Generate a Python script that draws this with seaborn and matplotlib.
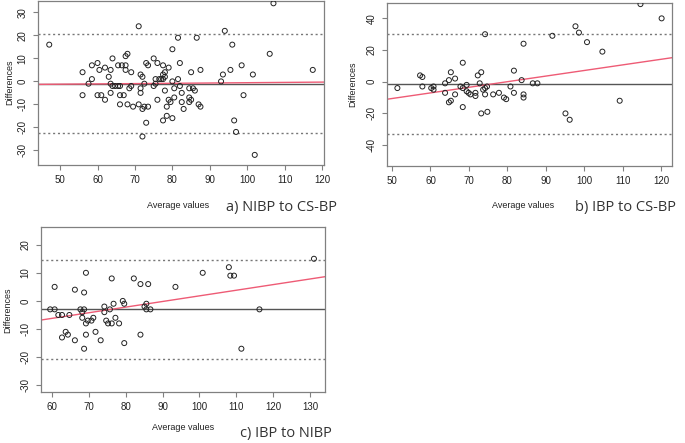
import numpy as np
import pandas as pd
import seaborn as sns
import matplotlib.pyplot as plt

# a) NIBP to CS-BP
avg_a = [47.1, 56, 56, 57.6, 58.5, 58.5, 60, 60, 60.5, 61, 62, 62, 63, 63.5, 63.5, 63.5,
         64, 64, 64.7, 65.5, 65.5, 66, 66, 66, 66.5, 67, 67.5, 67.5, 67.5, 68, 68, 68.5,
         69, 69, 69.5, 71, 71, 71.5, 71.5, 71.5, 72, 72, 72, 72.5, 72.5, 73, 73, 73.5,
         73.5, 75, 75, 75.5, 75.5, 76, 76, 76.5, 77, 77.5, 77.5, 77.5, 77.5, 78, 78, 78,
         78.5, 78.5, 79, 79, 79.5, 80, 80, 80, 80.5, 80.5, 81.5, 81.5, 82, 82, 82.5, 82.5,
         83, 84.5, 84.5, 84.5, 85, 85, 85.5, 86, 86.5, 87, 87.5, 87.5, 93, 93.5, 94, 95.5,
         96, 96.5, 97, 98.5, 99, 101.5, 102, 106, 107, 117.5]
diff_a = [16, 4, -6, -1, 7, 1, 8, -6, 5, -6, 6, -8, 2, 5, -1, -5,
          10, -2, -2, 7, -2, -2, -6, -10, 7, -6, 11, 7, 5, 12, -10, -3,
          4, -2, -11, 24, -10, 3, -3, -5, 2, -12, -24, -1, -11, 8, -18, 7,
          -11, 10, -2, -1, 1, 8, -8, 1, 1, 7, 3, -17, 1, 4, 2, -4,
          -11, -15, 6, -8, -9, 14, 0, -16, -3, -7, 19, 1, 8, -2, -5, -9,
          -12, -3, -7, -9, 4, -8, -3, -4, 19, -10, 5, -11, 0, 3, 22, 5,
          16, -17, -22, 7, -6, 3, -32, 12, 34, 5]
mean_a, upper_a, lower_a = -1.0, 20.6, -22.5
reg_a = (-1.87, 0.013)

# b) IBP to CS-BP
avg_b = [51.4, 57.3, 57.9, 57.9, 60.2, 60.8, 60.8, 63.8, 63.8, 64.8, 64.8, 65.3, 65.3,
         66.4, 66.4, 67.8, 68.4, 68.4, 68.4, 69.4, 69.4, 69.9, 70.4, 71.7, 71.7, 72.3,
         72.8, 73.2, 73.2, 73.7, 74.2, 74.2, 74.2, 74.7, 74.8, 76.3, 77.8, 79.1, 79.7,
         80.8, 81.7, 81.7, 83.7, 84.2, 84.2, 84.2, 86.6, 87.8, 91.7, 95.1, 96.2, 97.7,
         98.6, 100.7, 104.7, 109.2, 114.6, 120.1]
diff_b = [-4, 4, 3, -3, -4, -3, -5, -1, -7, 1, -13, 6, -12,
          2, -8, -3, 12, -4, -16, -2, -6, -7, -8, -7, -9, 4,
          -1, 6, -20, -5, 30, -4, -8, -3, -19, -8, -7, -10, -11,
          -3, 7, -7, 1, 24, -8, -10, -1, -1, 29, -20, -24, 35,
          31, 25, 19, -12, 49, 40]
mean_b, upper_b, lower_b = -1.6, 29.9, -32.8
reg_b = (-28.3, 0.354)

# c) IBP to NIBP
avg_c = [59.5, 60.7, 60.7, 61.7, 62.7, 62.7, 63.7, 64.3, 64.7, 66.2, 66.2, 67.7, 68.2,
         68.2, 68.7, 68.7, 68.7, 69.2, 69.2, 69.2, 69.7, 70.7, 71.2, 71.8, 73.2, 74.2,
         74.2, 74.7, 75.2, 75.7, 76.2, 76.2, 76.7, 77.2, 78.2, 79.2, 79.6, 79.6, 82.2,
         84.0, 84.0, 85.1, 85.6, 85.6, 86.1, 86.7, 93.5, 100.9, 108.0, 108.4, 109.4,
         111.4, 116.3, 131.1]
diff_c = [-3, 5, -3, -5, -5, -13, -11, -12, -5, 4, -14, -3, -4,
          -6, 3, -3, -17, 10, -8, -12, -7, -7, -6, -11, -14, -2,
          -4, -7, -8, -3, 8, -8, -1, -6, -8, 0, -1, -15, 8,
          6, -12, -2, -1, -3, 6, -3, 5, 10, 12, 9, 9,
          -17, -3, 15]
mean_c, upper_c, lower_c = -3.0, 14.6, -20.8
reg_c = (-18.2, 0.2)

sns.set_style('white')
plt.rcParams['font.family'] = ['Liberation Sans', 'DejaVu Sans']
plt.rcParams['axes.unicode_minus'] = False

W, H = 685, 443
fig = plt.figure(figsize=(W / 100, H / 100), dpi=100)


def px_axes(left, top, right, bottom):
    return fig.add_axes([left / W, 1 - bottom / H, (right - left) / W, (bottom - top) / H])


def bland_altman(ax, avg, diff, mean, upper, lower, reg, xlim, ylim, xticks, yticks):
    df = pd.DataFrame({'avg': avg, 'diff': diff})
    sns.scatterplot(data=df, x='avg', y='diff', ax=ax, marker='o', s=13,
                    facecolor='none', edgecolor='#222222', linewidth=0.7, zorder=3)
    ax.axhline(mean, color='#555555', lw=1.0, zorder=2)
    ax.axhline(upper, color='#777777', lw=1.0, ls=(0, (1.5, 2)), zorder=2)
    ax.axhline(lower, color='#777777', lw=1.0, ls=(0, (1.5, 2)), zorder=2)
    ax.axline((0, reg[0]), slope=reg[1], color='#ee5b75', lw=1.0, zorder=2)
    ax.set_xlim(*xlim)
    ax.set_ylim(*ylim)
    ax.set_xticks(xticks)
    ax.set_yticks(yticks)
    ax.set_xlabel('')
    ax.set_ylabel('')
    for s in ax.spines.values():
        s.set_color('#808080')
        s.set_linewidth(0.9)
    ax.tick_params(axis='both', which='major', length=3.5, width=0.8, color='#808080',
                   labelsize=7, pad=4, left=True, bottom=True, labelcolor='#222222')
    for lab in ax.get_yticklabels():
        lab.set_rotation(90)
        lab.set_va('center')


ax_a = px_axes(38, 1, 324, 165)
bland_altman(ax_a, avg_a, diff_a, mean_a, upper_a, lower_a, reg_a,
             (44.1, 120.5), (-36.4, 35.0), range(50, 121, 10), range(-30, 31, 10))
ax_b = px_axes(387, 3, 672, 166)
bland_altman(ax_b, avg_b, diff_b, mean_b, upper_b, lower_b, reg_b,
             (48.7, 122.8), (-53.2, 49.7), range(50, 121, 10), range(-40, 41, 20))
ax_c = px_axes(41, 227, 325, 392)
bland_altman(ax_c, avg_c, diff_c, mean_c, upper_c, lower_c, reg_c,
             (57.0, 134.1), (-32.4, 26.3), range(60, 131, 10), range(-30, 21, 10))


def ftext(x, y, s, **kw):
    fig.text(x / W, 1 - y / H, s, **kw)


small = dict(fontsize=6.5, color='#222222', ha='center', va='center')
ftext(10, 82, 'Differences', rotation=90, **small)
ftext(353, 84, 'Differences', rotation=90, **small)
ftext(8, 310, 'Differences', rotation=90, **small)
ftext(178, 205, 'Average values', **small)
ftext(523, 205, 'Average values', **small)
ftext(183, 428, 'Average values', **small)

big = dict(fontsize=10.5, color='#333333', ha='left', va='center', family='Open Sans')
ftext(226, 208, 'a) NIBP to CS-BP', **big)
ftext(575, 208, 'b) IBP to CS-BP', **big)
ftext(240, 434, 'c) IBP to NIBP', **big)

fig.savefig('out.png', dpi=100)
